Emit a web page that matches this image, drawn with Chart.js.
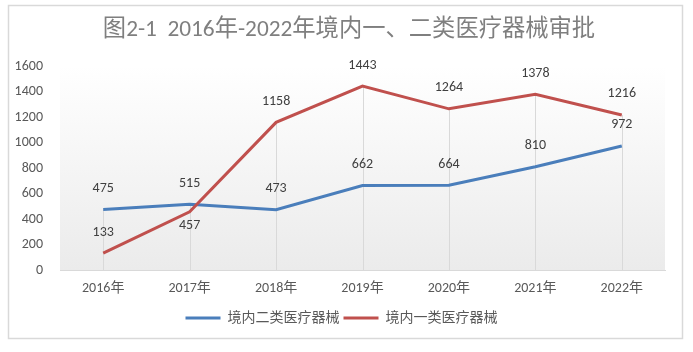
<!DOCTYPE html>
<html lang="zh-CN">
<head>
<meta charset="UTF-8">
<title>图2-1</title>
<script src="https://cdn.jsdelivr.net/npm/chart.js@4.4.0/dist/chart.umd.min.js"></script>
<style>
  body { margin: 0; background: #fff; }
  canvas { display: block; }
</style>
</head>
<body>
<canvas id="myChart" width="693" height="352"></canvas>
<script>
const years = ['2016年', '2017年', '2018年', '2019年', '2020年', '2021年', '2022年'];
const class2 = [475, 515, 473, 662, 664, 810, 972];      // 境内二类医疗器械
const class1 = [133, 457, 1158, 1443, 1264, 1378, 1216]; // 境内一类医疗器械
const yTicks = [0, 200, 400, 600, 800, 1000, 1200, 1400, 1600];
const chartTitle = '图2-1  2016年-2022年境内一、二类医疗器械审批';

const FONT = "Calibri, 'Noto Sans CJK SC', sans-serif";

// label offsets (pixels from the point), one per point
const labelOffsets = {
  class2: [-21, -21, -21, -21, -21, -21, -22],
  class1: [-21, 14, -21, -21, -21, -21, -21]
};

const framePlugin = {
  id: 'frame',
  afterLayout(chart) {
    // centre the legend under the frame, not under the plot
    chart.legend.left = 18;
  },
  beforeDraw(chart) {
    const ctx = chart.ctx;
    const a = chart.chartArea;
    ctx.save();
    ctx.fillStyle = '#fff';
    ctx.fillRect(0, 0, chart.width, chart.height);
    ctx.strokeStyle = '#d9d9d9';
    ctx.lineWidth = 1.5;
    ctx.strokeRect(8.5, 5.5, 674, 333);
    const g = ctx.createLinearGradient(0, a.top, 0, a.bottom);
    g.addColorStop(0, '#ffffff');
    g.addColorStop(1, '#ebebeb');
    ctx.fillStyle = g;
    ctx.fillRect(a.left, a.top, a.right - a.left, a.bottom - a.top);
    // title, centred on the frame rather than the plot
    ctx.font = '23.3px ' + FONT;
    ctx.fillStyle = '#7f7f7f';
    ctx.textAlign = 'center';
    ctx.textBaseline = 'middle';
    ctx.fillText(chartTitle, 349, 30);
    ctx.restore();
  },
  beforeDatasetsDraw(chart) {
    // drop lines from the highest point to the axis
    const ctx = chart.ctx;
    const x = chart.scales.x, y = chart.scales.y;
    ctx.save();
    ctx.strokeStyle = '#d9d9d9';
    ctx.lineWidth = 1;
    years.forEach((yr, i) => {
      const top = Math.max(class1[i], class2[i]);
      const px = Math.round(x.getPixelForValue(i)) + 0.5;
      ctx.beginPath();
      ctx.moveTo(px, y.getPixelForValue(top));
      ctx.lineTo(px, chart.chartArea.bottom);
      ctx.stroke();
    });
    ctx.restore();
  },
  afterDatasetsDraw(chart) {
    const ctx = chart.ctx;
    ctx.save();
    ctx.font = '14px ' + FONT;
    ctx.fillStyle = '#404040';
    ctx.textAlign = 'center';
    ctx.textBaseline = 'middle';
    chart.data.datasets.forEach((ds, di) => {
      const meta = chart.getDatasetMeta(di);
      const offs = labelOffsets[ds.key];
      meta.data.forEach((pt, i) => {
        ctx.fillText(String(ds.data[i]), pt.x, pt.y + offs[i]);
      });
    });
    ctx.restore();
  }
};

new Chart(document.getElementById('myChart'), {
  type: 'line',
  data: {
    labels: years,
    datasets: [
      {
        key: 'class1',
        label: '境内一类医疗器械',
        data: class1,
        borderColor: '#c0504d',
        backgroundColor: '#c0504d',
        borderWidth: 3,
        pointRadius: 0,
        tension: 0,
        fill: false
      },
      {
        key: 'class2',
        label: '境内二类医疗器械',
        data: class2,
        borderColor: '#4a7ebb',
        backgroundColor: '#4a7ebb',
        borderWidth: 3,
        pointRadius: 0,
        tension: 0,
        fill: false
      }
    ]
  },
  options: {
    responsive: false,
    animation: false,
    layout: { padding: { left: 0, right: 28, top: 66, bottom: 17 } },
    plugins: {
      title: { display: false },
      legend: {
        position: 'bottom',
        reverse: true,
        labels: {
          color: '#595959',
          font: { family: FONT, size: 14 },
          boxWidth: 35,
          boxHeight: 3,
          padding: 4,
          generateLabels(chart) {
            const items = Chart.defaults.plugins.legend.labels.generateLabels(chart);
            return items.map(it => Object.assign(it, { lineWidth: 0, fillStyle: it.strokeStyle }));
          }
        }
      },
      tooltip: { enabled: false }
    },
    scales: {
      x: {
        offset: true,
        grid: { display: false },
        border: { display: true, color: '#d9d9d9', width: 1 },
        afterFit(scale) { scale.height = 37; },
        ticks: { color: '#595959', font: { family: FONT, size: 14 }, padding: 2, maxRotation: 0 }
      },
      y: {
        min: yTicks[0],
        max: yTicks[yTicks.length - 1],
        afterBuildTicks(scale) { scale.ticks = yTicks.map(v => ({ value: v })); },
        afterFit(scale) { scale.width = 60; },
        grid: { display: false },
        border: { display: false },
        ticks: {
          color: '#595959',
          font: { family: FONT, size: 14 },
          padding: 9,
          callback: v => String(v)
        }
      }
    }
  },
  plugins: [framePlugin]
});
</script>
</body>
</html>
